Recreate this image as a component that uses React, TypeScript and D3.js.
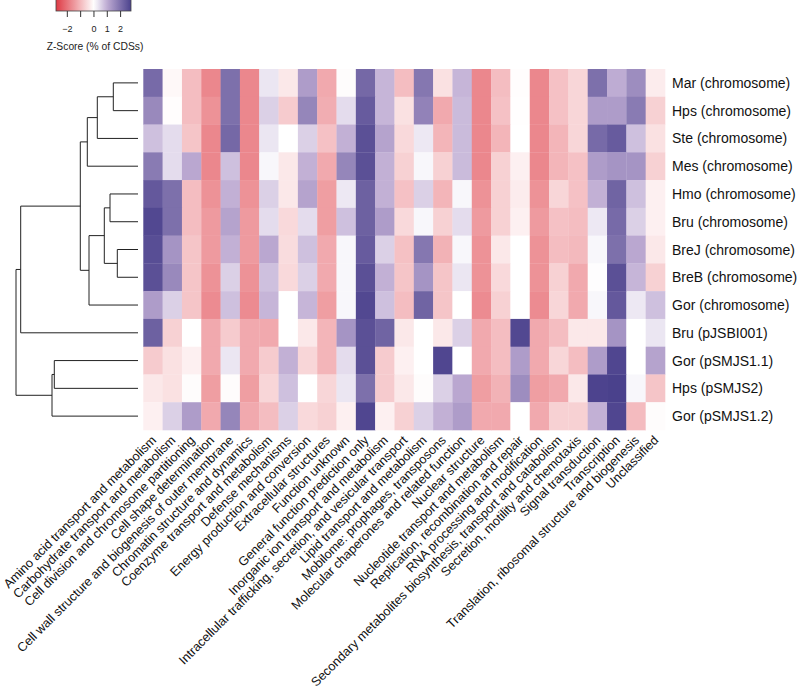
import React from 'react'
import * as d3 from 'd3'

const genomes = [
  'Mar (chromosome)', 'Hps (chromosome)', 'Ste (chromosome)', 'Mes (chromosome)',
  'Hmo (chromosome)', 'Bru (chromosome)', 'BreJ (chromosome)', 'BreB (chromosome)',
  'Gor (chromosome)', 'Bru (pJSBI001)', 'Gor (pSMJS1.1)', 'Hps (pSMJS2)', 'Gor (pSMJS1.2)',
]

const categories = [
  'Amino acid transport and metabolism',
  'Carbohydrate transport and metabolism',
  'Cell division and chromosome partitioning',
  'Cell shape determination',
  'Cell wall structure and biogenesis of outer membrane',
  'Chromatin structure and dynamics',
  'Coenzyme transport and metabolism',
  'Defense mechanisms',
  'Energy production and conversion',
  'Extracellular structures',
  'Function unknown',
  'General function prediction only',
  'Inorganic ion transport and metabolism',
  'Intracellular trafficking, secretion, and vesicular transport',
  'Lipid transport and metabolism',
  'Mobilome: prophages, transposons',
  'Molecular chaperones and related function',
  'Nuclear structure',
  'Nucleotide transport and metabolism',
  'Replication, recombination and repair',
  'RNA processing and modification',
  'Secondary metabolites biosynthesis, transport and catabolism',
  'Secretion, motility and chemotaxis',
  'Signal transduction',
  'Transcription',
  'Translation, ribosomal structure and biogenesis',
  'Unclassified',
]

// z-scores, one row per genome, columns in category order
const zMar = [2.09, -0.1, -0.95, -1.73, 2.0, -1.73, 0.3, -0.33, 1.24, -1.24, -0.05, 2.13, 0.87, -0.95, 1.87, -0.44, 0.87, -1.73, -0.95, -0.03, -1.73, -0.89, -0.6, 2.0, 0.98, 1.5, -0.27]
const zHps = [1.56, -0.03, -0.95, -1.58, 2.0, -1.73, 0.55, -0.75, 1.62, -1.18, 0.41, 2.35, 0.87, -0.44, 1.68, -1.24, 0.8, -1.73, -0.89, -0.02, -1.73, -0.89, -0.6, 1.24, 1.24, 1.81, -0.67]
const zSte = [0.74, 0.41, -0.84, -1.73, 2.13, -1.73, 0.3, 0.0, 0.55, -0.89, 0.93, 2.54, 1.12, -0.55, 0.27, -1.07, 0.8, -1.73, -1.07, 0.0, -1.73, -1.07, -0.6, 2.09, 2.35, 0.74, -0.44]
const zMes = [1.81, 0.41, 1.05, -1.73, 0.74, -1.73, 0.1, -0.33, 0.93, -1.24, 1.62, 2.54, 0.93, -0.67, 0.1, -0.67, 0.8, -1.73, -0.67, -0.21, -1.73, -1.07, -0.89, 1.24, 1.37, 1.37, -0.67]
const zHmo = [2.4, 2.0, -0.95, -1.58, 0.93, -1.58, 0.55, -0.33, 1.12, -1.41, 0.27, 2.25, 0.93, -0.89, 0.55, -1.07, 0.1, -1.58, -0.67, -0.27, -1.58, -0.6, -0.89, 0.93, 2.2, 0.74, -0.21]
const zBru = [2.68, 2.0, -0.95, -1.46, 1.12, -1.46, 0.41, -0.55, 0.41, -1.41, 0.74, 2.25, 1.24, -0.55, 0.1, -0.67, 0.41, -1.46, -0.67, -0.21, -1.46, -0.89, -0.95, 0.27, 2.09, 0.55, -0.21]
const zBreJ = [2.58, 1.37, -0.84, -1.46, 0.93, -1.46, 1.05, -0.5, 0.74, -1.24, 0.1, 2.35, 0.55, -0.9, 1.87, -1.12, 0.1, -1.58, -0.33, 0.0, -1.58, -0.95, -1.01, 0.1, 2.0, 1.05, -0.33]
const zBreB = [2.54, 1.56, -0.84, -1.58, 0.55, -1.58, 0.74, -0.55, 0.55, -1.24, 0.1, 2.54, 0.93, -0.84, 1.37, -0.84, 0.3, -1.58, -0.55, 0.0, -1.58, -0.67, -1.24, 0.02, 2.54, 0.87, -0.67]
const zGor = [1.24, 0.55, -0.84, -1.68, 0.74, -1.68, 0.87, 0.0, 0.87, -1.41, 0.1, 2.68, 0.74, -0.95, 2.2, -0.84, 0.0, -1.68, -0.67, 0.0, -1.68, -0.6, -1.24, 0.1, 2.4, 0.27, 0.74]
const zBruP = [2.25, -0.67, 0.0, -1.24, -0.75, -1.24, -1.24, 0.0, -0.33, -1.07, 1.37, 2.54, 2.2, -0.33, 0.0, -0.33, 0.55, -1.24, -0.95, 2.68, -1.24, -0.95, -0.33, -0.33, 1.37, 0.0, 0.3]
const zGorP11 = [-0.75, -0.44, -0.21, -1.24, 0.3, -1.24, -0.75, 0.93, -0.6, -1.07, 0.41, 2.54, -0.75, -0.21, 0.0, 2.71, 0.0, -1.24, -0.95, 1.24, -1.24, -0.6, -0.95, 1.24, 2.71, 0.0, 1.12]
const zHpsP2 = [-0.33, -0.44, -0.05, -1.41, -0.05, -1.41, -0.6, 0.74, 0.0, -0.6, 0.3, 2.0, -0.75, -0.33, -0.05, 0.55, 1.05, -1.41, -1.12, 1.5, -1.41, -1.24, -0.33, 2.76, 2.8, 0.1, -0.84]
const zGorP12 = [-0.21, 0.55, 1.24, -1.24, 1.62, -1.24, -0.95, 0.55, -0.55, -0.67, -0.21, 2.71, -0.21, -0.67, 0.55, 0.93, 1.24, -1.24, -1.24, 0.0, -1.24, -0.67, -0.67, 0.93, 2.71, -0.98, -0.05]

const zRows = [zMar, zHps, zSte, zMes, zHmo, zBru, zBreJ, zBreB, zGor, zBruP, zGorP11, zHpsP2, zGorP12]

// row dendrogram, hclust style: negative = leaf -(row index + 1), positive = merge number
const merges: [number, number, number][] = [
  [-7, -8, 2.07],
  [-1, -2, 2.47],
  [-5, -6, 2.8],
  [3, 1, 3.37],
  [2, -3, 4.07],
  [4, -9, 4.9],
  [5, -4, 5.07],
  [7, 6, 5.77],
  [-11, -12, 8.37],
  [9, -13, 8.6],
  [8, -10, 11.73],
  [11, 10, 12.2],
]

const legendTicks = [-2, -1, 0, 1, 2]
const legendTickLabels = ['\u22122', '', '0', '1', '2']
const legendRange = [-2.85, 2.78]

const FONT = "'Liberation Sans', Arial, Helvetica, sans-serif"

export default function App() {
  const x = d3.scaleBand<string>().domain(categories).range([143.3, 665]).paddingInner(0)
  const y = d3.scaleBand<string>().domain(genomes).range([69, 430]).paddingInner(0)

  const color = d3
    .scaleLinear<string>()
    .domain([-2.85, 0, 1, 2.8])
    .range(['#de3a44', '#ffffff', '#bdaad2', '#4a418c'])
    .interpolate(d3.interpolateRgb)
    .clamp(true)

  // dendrogram geometry
  const hx = d3.scaleLinear().domain([0, 12.2]).range([138, 16])
  const nodeY: number[] = []
  const ypos = (ref: number) =>
    ref < 0 ? (y(genomes[-ref - 1]) as number) + y.bandwidth() / 2 : nodeY[ref - 1]
  const hpos = (ref: number) => (ref < 0 ? 0 : merges[ref - 1][2])
  const segs: string[] = []
  merges.forEach(([a, b, h], i) => {
    const ya = ypos(a)
    const yb = ypos(b)
    nodeY[i] = (ya + yb) / 2
    const p = d3.path()
    p.moveTo(hx(hpos(a)), ya)
    p.lineTo(hx(h), ya)
    p.lineTo(hx(h), yb)
    p.lineTo(hx(hpos(b)), yb)
    segs.push(p.toString())
  })

  // legend
  const lx = d3.scaleLinear().domain(legendRange).range([56, 131])
  const gradStops = d3.range(0, 1.0001, 0.05).map((t) => ({
    t,
    c: color(legendRange[0] + t * (legendRange[1] - legendRange[0])),
  }))

  React.useEffect(() => {
    document.body.style.margin = '0'
  }, [])

  return (
    <svg
      width={800}
      height={687}
      style={{ position: 'absolute', left: 0, top: 0, background: '#fff' }}
      fontFamily={FONT}
    >
      <defs>
        <linearGradient id="zgrad" x1="0" x2="1" y1="0" y2="0">
          {gradStops.map((s) => (
            <stop key={s.t} offset={s.t} stopColor={s.c} />
          ))}
        </linearGradient>
      </defs>

      {/* colour key */}
      <g>
        <rect x={lx(legendRange[0])} y={-2} width={lx(legendRange[1]) - lx(legendRange[0])} height={13} fill="url(#zgrad)" stroke="#444" strokeWidth={0.8} />
        {legendTicks.map((t, i) => (
          <g key={t}>
            <line x1={lx(t)} x2={lx(t)} y1={11} y2={17} stroke="#333" strokeWidth={1} />
            <text x={lx(t)} y={32} fontSize={9} textAnchor="middle" fill="#222">
              {legendTickLabels[i]}
            </text>
          </g>
        ))}
        <text x={95} y={50} fontSize={10.3} textAnchor="middle" fill="#222">
          Z-Score (% of CDSs)
        </text>
      </g>

      {/* heatmap */}
      <g>
        {zRows.map((row, r) =>
          row.map((v, c) => (
            <rect
              key={`${r}-${c}`}
              x={x(categories[c])}
              y={y(genomes[r])}
              width={x.bandwidth() + 0.3}
              height={y.bandwidth() + 0.3}
              fill={color(v)}
            />
          ))
        )}
      </g>

      {/* dendrogram */}
      <g fill="none" stroke="#222" strokeWidth={1}>
        {segs.map((d, i) => (
          <path key={i} d={d} />
        ))}
      </g>

      {/* row labels */}
      <g fontSize={14} fill="#111">
        {genomes.map((g) => (
          <text key={g} x={672} y={(y(g) as number) + y.bandwidth() / 2 + 5}>
            {g}
          </text>
        ))}
      </g>

      {/* column labels */}
      <g fontSize={12.7} fill="#111">
        {categories.map((c) => {
          const cx = (x(c) as number) + x.bandwidth() / 2 + 4
          const cy = 441
          return (
            <text key={c} x={cx} y={cy} textAnchor="end" transform={`rotate(-45 ${cx} ${cy})`}>
              {c}
            </text>
          )
        })}
      </g>
    </svg>
  )
}
